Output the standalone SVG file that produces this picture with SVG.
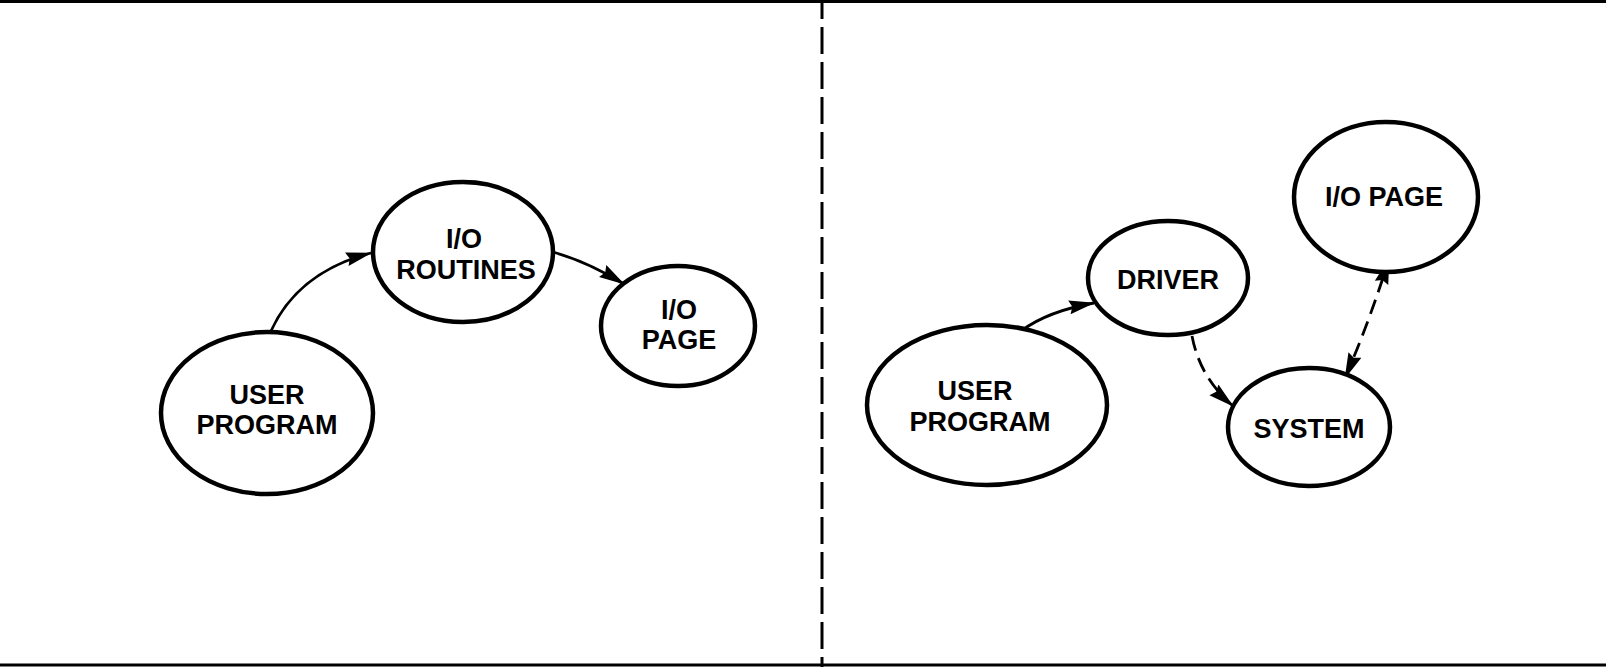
<svg xmlns="http://www.w3.org/2000/svg" width="1606" height="667" viewBox="0 0 1606 667">
<style>
.node{fill:#fff;stroke:#000;stroke-width:4.5}
.lbl{font-family:"Liberation Sans",Arial,sans-serif;font-weight:bold;font-size:27px;fill:#000;text-anchor:middle}
.conn{fill:none;stroke:#000;stroke-width:2.8}
.dash{stroke-dasharray:15 8}
.frame{stroke:#000;stroke-width:3;fill:none}
</style>
<defs>
<marker id="ah" markerUnits="userSpaceOnUse" markerWidth="28" markerHeight="16" refX="25" refY="7" orient="auto-start-reverse">
<path d="M0,0 L26,7 L0,14 L3,7 Z" fill="#000"/>
</marker>
</defs>
<rect width="1606" height="667" fill="#fff"/>
<g id="frame">
<line class="frame" x1="0" y1="1.5" x2="1606" y2="1.5"/>
<line class="frame" x1="0" y1="665" x2="1606" y2="665"/>
<line class="frame" x1="822" y1="0" x2="822" y2="667" stroke-dasharray="27 8" stroke-dashoffset="8"/>
</g>
<g id="connectors">
<path class="conn" d="M271,331 Q298,272 371,253" marker-end="url(#ah)"/>
<path class="conn" d="M553,252 Q588,262 624,284" marker-end="url(#ah)"/>
<path class="conn" d="M1021,331 Q1048,311 1094,303" marker-end="url(#ah)"/>
<path class="conn dash" d="M1192,336 Q1200,378 1233,406" marker-end="url(#ah)"/>
<path class="conn dash" d="M1345,378 Q1370,320 1389,259" marker-start="url(#ah)" marker-end="url(#ah)"/>
</g>
<g id="user-program-left">
<ellipse class="node" cx="267" cy="413" rx="106" ry="81"/>
<text class="lbl" x="267" y="404">USER</text>
<text class="lbl" x="267" y="434">PROGRAM</text>
</g>
<g id="io-routines">
<ellipse class="node" cx="463" cy="252" rx="90" ry="70"/>
<text class="lbl" x="464" y="248">I/O</text>
<text class="lbl" x="466" y="279">ROUTINES</text>
</g>
<g id="io-page-left">
<ellipse class="node" cx="678" cy="326" rx="77" ry="60"/>
<text class="lbl" x="679" y="319">I/O</text>
<text class="lbl" x="679" y="349">PAGE</text>
</g>
<g id="user-program-right">
<ellipse class="node" cx="987" cy="405" rx="120" ry="80"/>
<text class="lbl" x="975" y="400">USER</text>
<text class="lbl" x="980" y="431">PROGRAM</text>
</g>
<g id="driver">
<ellipse class="node" cx="1168" cy="278" rx="80" ry="57"/>
<text class="lbl" x="1168" y="289">DRIVER</text>
</g>
<g id="system">
<ellipse class="node" cx="1309" cy="427" rx="81" ry="59"/>
<text class="lbl" x="1309" y="438">SYSTEM</text>
</g>
<g id="io-page-right">
<ellipse class="node" cx="1386" cy="197" rx="92" ry="75"/>
<text class="lbl" x="1384" y="206">I/O PAGE</text>
</g>
</svg>
